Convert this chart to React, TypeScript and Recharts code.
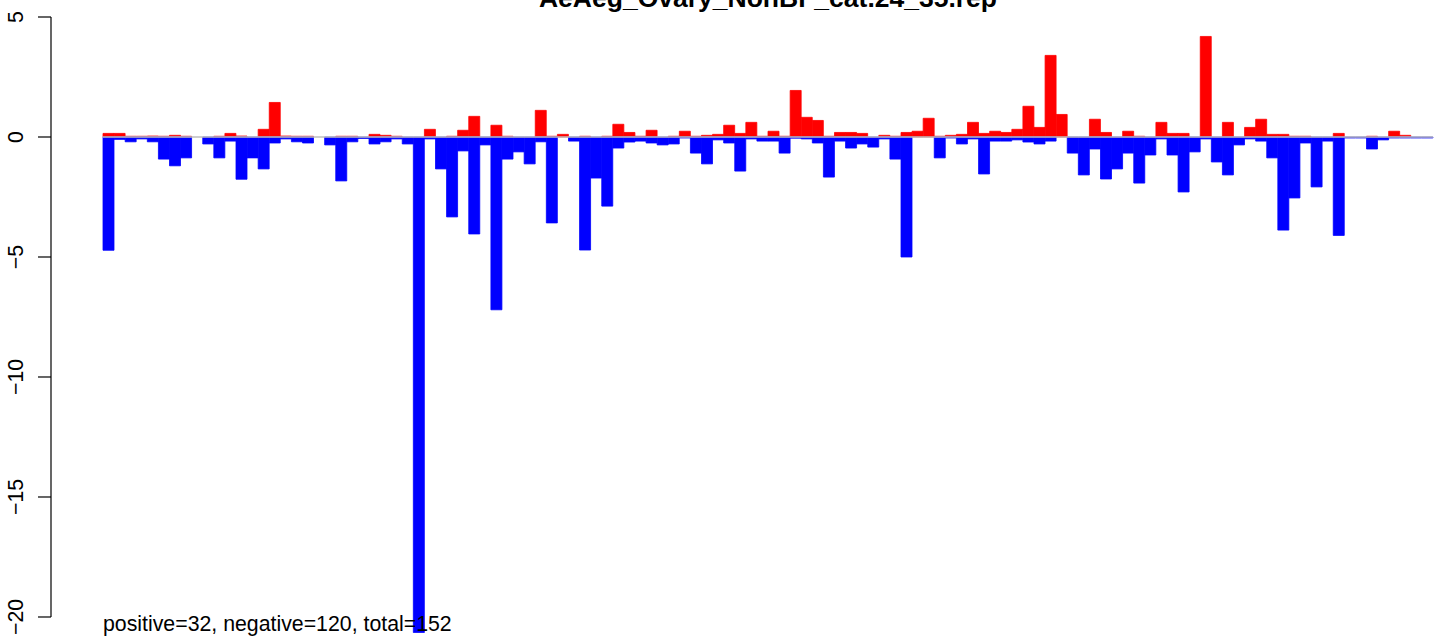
import React from "react";
import { BarChart, Bar, XAxis, YAxis, ReferenceLine } from "recharts";

// values, one entry per bar (left to right)
const positives = [
  0.15, 0.15, 0.03, 0.03, 0.04, 0.03, 0.07, 0.03, 0, 0,
  0.03, 0.15, 0.04, 0, 0.32, 1.44, 0.04, 0.03, 0.03, 0,
  0, 0.03, 0.03, 0, 0.11, 0.07, 0.03, 0, 0, 0.32,
  0, 0.03, 0.28, 0.86, 0, 0.49, 0.03, 0, 0, 1.11,
  0.03, 0.11, 0, 0.03, 0, 0.03, 0.53, 0.19, 0.03, 0.28,
  0, 0.03, 0.24, 0.03, 0.07, 0.11, 0.49, 0.15, 0.61, 0.03,
  0.24, 0.03, 1.94, 0.82, 0.69, 0.03, 0.19, 0.19, 0.15, 0,
  0.07, 0.03, 0.19, 0.24, 0.78, 0.03, 0.07, 0.11, 0.61, 0.15,
  0.24, 0.19, 0.32, 1.28, 0.4, 3.4, 0.94, 0, 0, 0.74,
  0.19, 0, 0.24, 0.03, 0, 0.61, 0.15, 0.15, 0, 4.19,
  0, 0.61, 0, 0.4, 0.74, 0.11, 0.11, 0.03, 0.03, 0,
  0, 0.15, 0, 0, 0.03, 0, 0.24, 0.07, 0, 0,
];

const negatives = [
  -4.72, -0.1, -0.2, -0.08, -0.2, -0.92, -1.2, -0.87, 0, -0.29,
  -0.87, -0.17, -1.76, -0.87, -1.33, -0.25, -0.08, -0.2, -0.25, 0,
  -0.33, -1.83, -0.2, -0.06, -0.29, -0.2, -0.08, -0.29, -20.65, -0.08,
  -1.33, -3.33, -0.58, -4.04, -0.33, -7.2, -0.92, -0.62, -1.12, -0.2,
  -3.58, 0, -0.17, -4.71, -1.71, -2.88, -0.46, -0.21, -0.17, -0.25,
  -0.33, -0.29, -0.04, -0.67, -1.12, -0.12, -0.25, -1.42, -0.08, -0.17,
  -0.17, -0.67, -0.05, -0.08, -0.25, -1.67, -0.17, -0.46, -0.29, -0.42,
  -0.08, -0.92, -5.0, 0, 0, -0.87, -0.04, -0.29, -0.08, -1.54,
  -0.17, -0.17, -0.12, -0.21, -0.29, -0.17, 0, -0.67, -1.58, -0.5,
  -1.75, -1.33, -0.67, -1.92, -0.75, -0.08, -0.75, -2.29, -0.62, -0.08,
  -1.04, -1.58, -0.33, -0.08, -0.17, -0.87, -3.88, -2.54, -0.25, -2.08,
  -0.17, -4.1, -0.04, -0.04, -0.5, -0.12, -0.04, -0.04, -0.04, -0.04,
];

const yTicks = [5, 0, -5, -10, -15, -20];
const title = "AeAeg_Ovary_NonBF_cat.24_35.rep";
const summary = "positive=32, negative=120, total=152";

const data = positives.map((p, i) => ({ id: i + 1, pos: p, neg: negatives[i] }));

const W = 1441;
const H = 639;
const yDomain = [-20.667, 5];
const margin = { top: 17, right: 8, bottom: 6, left: 0 };
const pxPerUnit = (H - margin.top - margin.bottom) / (yDomain[1] - yDomain[0]);
const FONT = "'Liberation Sans', Arial, sans-serif";

const AxisTick = (props: any) => {
  const { y, payload } = props;
  const v = payload.value;
  const top = yTicks[0];
  const bottom = yTicks[yTicks.length - 1];
  return (
    <g>
      {v === top && (
        <line x1={51} x2={51} y1={y} y2={y + (top - bottom) * pxPerUnit} stroke="#000" strokeWidth={1.2} />
      )}
      <line x1={38} x2={51} y1={y} y2={y} stroke="#000" strokeWidth={1.2} />
      <text
        transform={`translate(22.5,${y}) rotate(-90)`}
        textAnchor="middle"
        fontSize={21.3}
        fontFamily={FONT}
        fill="#000"
      >
        {v < 0 ? `\u2212${-v}` : `${v}`}
      </text>
    </g>
  );
};

const App = () => {
  return (
    <div style={{ position: "absolute", left: 0, top: 0, width: W, height: H, background: "#fff" }}>
      <BarChart
        width={W}
        height={H}
        data={data}
        margin={margin}
        barCategoryGap={0}
        barGap={0}
        stackOffset="sign"
      >
        <XAxis dataKey="id" type="category" hide />
        <YAxis
          type="number"
          domain={yDomain}
          ticks={yTicks}
          allowDataOverflow
          width={103}
          axisLine={false}
          tickLine={false}
          tick={<AxisTick />}
          interval={0}
        />
        <ReferenceLine y={0} stroke="#BEBEBE" strokeWidth={1.5} />
        <Bar dataKey="pos" stackId="a" fill="#FF0000" stroke="#FF0000" strokeWidth={0.8} isAnimationActive={false} />
        <Bar dataKey="neg" stackId="a" fill="#0000FF" stroke="#0000FF" strokeWidth={0.8} isAnimationActive={false} />
      </BarChart>
      <svg
        width={W}
        height={H}
        style={{ position: "absolute", left: 0, top: 0, pointerEvents: "none" }}
      >
        <text x={768} y={7} textAnchor="middle" fontSize={26.5} fontWeight="bold" fontFamily={FONT} fill="#000">
          {title}
        </text>
        <text x={103} y={631} fontSize={21.3} fontFamily={FONT} fill="#000">
          {summary}
        </text>
      </svg>
    </div>
  );
};

export default App;
